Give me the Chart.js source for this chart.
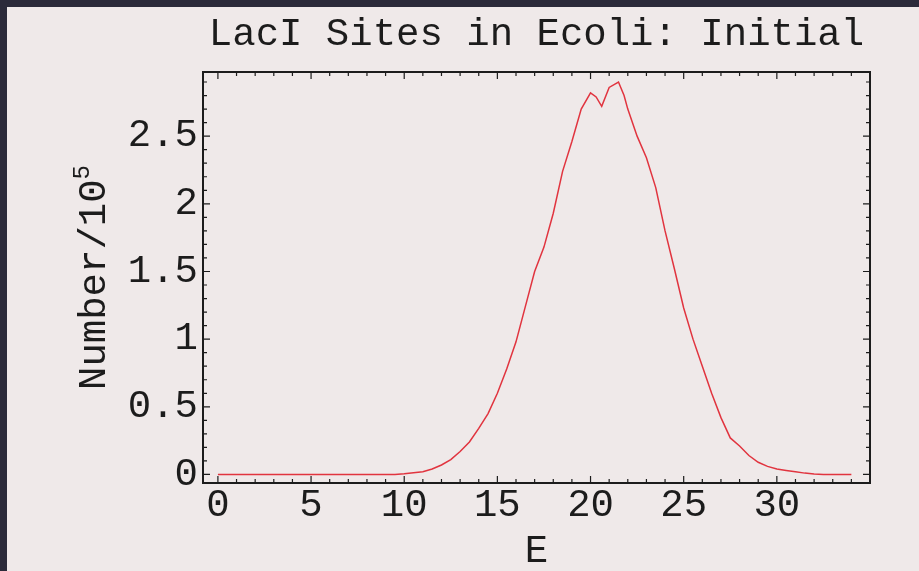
<!DOCTYPE html>
<html>
<head>
<meta charset="utf-8">
<title>LacI Sites in Ecoli: Initial</title>
<script src="https://cdn.jsdelivr.net/npm/chart.js@4"></script>
<style>
  html, body { margin: 0; padding: 0; background: #2b2a3a; }
  #wrap { width: 919px; height: 571px; }
</style>
</head>
<body>
<div id="wrap"><canvas id="chart" width="919" height="571"></canvas></div>
<script>
// Energy (E) and site counts in units of 10^5
const energy = [
    0, 0.5, 1, 1.5, 2, 2.5, 3, 3.5, 4, 4.5, 5, 5.5, 6, 6.5, 7, 7.5, 8, 8.5, 9, 9.5,
    10, 10.5, 11, 11.5, 12, 12.5, 13, 13.5, 14, 14.5, 15, 15.5, 16, 16.5, 17, 17.5,
    18, 18.5, 19, 19.5, 20, 20.3, 20.6, 21, 21.5, 21.8, 22, 22.5, 23, 23.5, 24, 24.5,
    25, 25.5, 26, 26.5, 27, 27.5, 28, 28.5, 29, 29.5, 30, 30.5, 31, 31.5, 32, 32.5,
    33, 33.5, 34
];
const counts = [
    0, 0, 0, 0, 0, 0, 0, 0, 0, 0, 0, 0, 0, 0, 0, 0, 0, 0, 0, 0,
    0.005, 0.012, 0.02, 0.04, 0.07, 0.11, 0.17, 0.24, 0.34, 0.45, 0.6, 0.78, 0.98, 1.24, 1.5, 1.68,
    1.93, 2.24, 2.46, 2.7, 2.82, 2.79, 2.72, 2.86, 2.9, 2.8, 2.7, 2.5, 2.34, 2.12, 1.8, 1.52,
    1.23, 1.0, 0.8, 0.6, 0.42, 0.27, 0.21, 0.14, 0.09, 0.06, 0.04, 0.03, 0.02, 0.01, 0.003, 0,
    0, 0, 0
];
const xTicks = [0, 5, 10, 15, 20, 25, 30];
const yTicks = [0, 0.5, 1, 1.5, 2, 2.5];

const monoFont = "'Liberation Mono', 'DejaVu Sans Mono', monospace";
const ink = '#1c1c1c';

// slide background: dark edge on top/left, light panel
const backdrop = {
    id: 'backdrop',
    beforeDraw(chart) {
        const { ctx, width, height } = chart;
        ctx.save();
        ctx.fillStyle = '#2b2a3a';
        ctx.fillRect(0, 0, width, height);
        ctx.fillStyle = '#efe9e9';
        ctx.fillRect(7, 7, width - 7, height - 7);
        ctx.restore();
    }
};

// Mathematica style frame with inward ticks on all four sides + y title
const frame = {
    id: 'frame',
    afterDraw(chart) {
        const { ctx, chartArea: a, scales } = chart;
        const xs = scales.x, ys = scales.y;
        ctx.save();
        ctx.strokeStyle = ink;
        ctx.lineWidth = 2;
        ctx.strokeRect(a.left, a.top, a.right - a.left, a.bottom - a.top);

        ctx.lineWidth = 1.2;
        ctx.beginPath();
        for (let v = 0; v <= 34; v++) {
            const px = xs.getPixelForValue(v);
            const len = v % 5 === 0 ? 7 : 4;
            ctx.moveTo(px, a.bottom); ctx.lineTo(px, a.bottom - len);
            ctx.moveTo(px, a.top); ctx.lineTo(px, a.top + len);
        }
        for (let i = 0; i <= 29; i++) {
            const v = i / 10;
            const py = ys.getPixelForValue(v);
            const len = i % 5 === 0 ? 7 : 4;
            ctx.moveTo(a.left, py); ctx.lineTo(a.left + len, py);
            ctx.moveTo(a.right, py); ctx.lineTo(a.right - len, py);
        }
        ctx.stroke();

        // y axis title: Number/10^5
        const main = 'Number/10';
        const cy = (a.top + a.bottom) / 2;
        ctx.translate(a.left - 108, cy);
        ctx.rotate(-Math.PI / 2);
        ctx.fillStyle = ink;
        ctx.textBaseline = 'middle';
        ctx.font = '39px ' + monoFont;
        const w1 = ctx.measureText(main).width;
        ctx.font = '24px ' + monoFont;
        const w2 = ctx.measureText('5').width;
        const x0 = -(w1 + w2) / 2;
        ctx.font = '39px ' + monoFont;
        ctx.textAlign = 'left';
        ctx.fillText(main, x0, 0);
        ctx.font = '24px ' + monoFont;
        ctx.fillText('5', x0 + w1, -12);
        ctx.restore();
    }
};

const ctx = document.getElementById('chart').getContext('2d');
new Chart(ctx, {
    type: 'line',
    data: {
        datasets: [{
            data: energy.map((e, i) => ({ x: e, y: counts[i] })),
            borderColor: '#e1343f',
            borderWidth: 1.5,
            pointRadius: 0,
            tension: 0,
            fill: false
        }]
    },
    options: {
        responsive: false,
        animation: false,
        layout: { padding: { left: 0, right: 49, top: 0, bottom: 0 } },
        plugins: {
            legend: { display: false },
            tooltip: { enabled: false },
            title: {
                display: true,
                fullSize: false,
                text: 'LacI Sites in Ecoli: Initial',
                color: ink,
                font: { family: monoFont, size: 39, weight: 'normal', lineHeight: 1 },
                padding: { top: 15, bottom: 18 }
            }
        },
        scales: {
            x: {
                type: 'linear',
                min: -0.8,
                max: 35,
                afterBuildTicks: s => { s.ticks = xTicks.map(v => ({ value: v })); },
                afterFit: s => { s.height = 88; },
                grid: { display: false, drawTicks: false },
                border: { display: false },
                ticks: {
                    color: ink,
                    padding: 3,
                    maxRotation: 0,
                    font: { family: monoFont, size: 39, lineHeight: 1 },
                    callback: v => String(v)
                },
                title: {
                    display: true,
                    text: 'E',
                    color: ink,
                    font: { family: monoFont, size: 39, lineHeight: 1 },
                    padding: { top: 0, bottom: 0 }
                }
            },
            y: {
                type: 'linear',
                min: -0.063,
                max: 2.974,
                afterBuildTicks: s => { s.ticks = yTicks.map(v => ({ value: v })); },
                afterFit: s => { s.width = 203; },
                grid: { display: false, drawTicks: false },
                border: { display: false },
                ticks: {
                    color: ink,
                    padding: 5,
                    font: { family: monoFont, size: 39 },
                    callback: v => String(v)
                }
            }
        }
    },
    plugins: [backdrop, frame]
});
</script>
</body>
</html>
